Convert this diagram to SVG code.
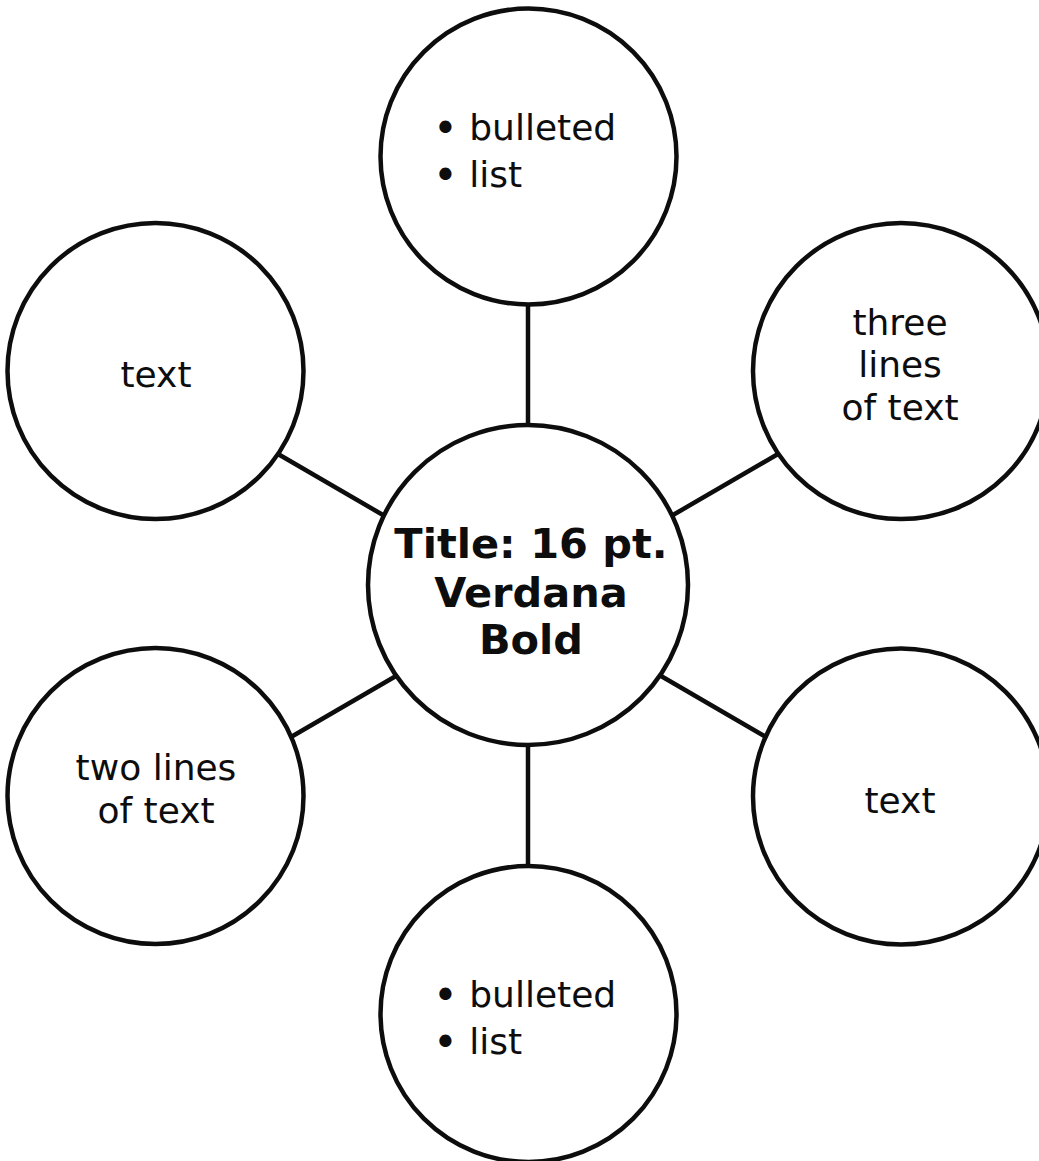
<svg xmlns="http://www.w3.org/2000/svg" width="1039" height="1161" viewBox="0 0 1039 1161">
<style>
.node{fill:#fff;stroke:#0d0d0d;stroke-width:4.5}
.conn line{stroke:#0d0d0d;stroke-width:4.5}
.t{font-family:"DejaVu Sans","Liberation Sans",sans-serif;font-size:36px;fill:#0d0d0d}
.c{text-anchor:middle}
.b{font-size:42px}
.title{font-family:"DejaVu Sans","Liberation Sans",sans-serif;font-size:41.5px;font-weight:bold;fill:#0d0d0d;text-anchor:middle}
</style>
<rect width="1039" height="1161" fill="#fff"/>
<g id="connectors" class="conn">
<line x1="528" y1="304" x2="528" y2="425"/>
<line x1="528" y1="744" x2="528" y2="867"/>
<line x1="278" y1="454" x2="383" y2="515"/>
<line x1="778" y1="454" x2="673" y2="515"/>
<line x1="291" y1="737" x2="396" y2="676"/>
<line x1="661" y1="676" x2="766" y2="737"/>
</g>
<g id="node-center">
<circle class="node" cx="528" cy="585" r="160"/>
<text class="title" x="531" y="558">Title: 16 pt.</text>
<text class="title" x="531" y="607">Verdana</text>
<text class="title" x="531" y="654">Bold</text>
</g>
<g id="node-top">
<circle class="node" cx="528.5" cy="156.5" r="148"/>
<text class="t" x="433" y="140"><tspan class="b" dy="3">•</tspan><tspan dy="-3"> bulleted</tspan></text>
<text class="t" x="433" y="187"><tspan class="b" dy="3">•</tspan><tspan dy="-3"> list</tspan></text>
</g>
<g id="node-top-left">
<circle class="node" cx="155.5" cy="371" r="148"/>
<text class="t c" x="156" y="387">text</text>
</g>
<g id="node-top-right">
<circle class="node" cx="901" cy="371" r="148"/>
<text class="t c" x="900" y="335">three</text>
<text class="t c" x="900" y="377">lines</text>
<text class="t c" x="900" y="420">of text</text>
</g>
<g id="node-bottom-left">
<circle class="node" cx="155.5" cy="796" r="148"/>
<text class="t c" x="156" y="780">two lines</text>
<text class="t c" x="156" y="823">of text</text>
</g>
<g id="node-bottom-right">
<circle class="node" cx="901" cy="796.5" r="148"/>
<text class="t c" x="900" y="813">text</text>
</g>
<g id="node-bottom">
<circle class="node" cx="528.5" cy="1014" r="148"/>
<text class="t" x="433" y="1007"><tspan class="b" dy="3">•</tspan><tspan dy="-3"> bulleted</tspan></text>
<text class="t" x="433" y="1054"><tspan class="b" dy="3">•</tspan><tspan dy="-3"> list</tspan></text>
</g>
</svg>
